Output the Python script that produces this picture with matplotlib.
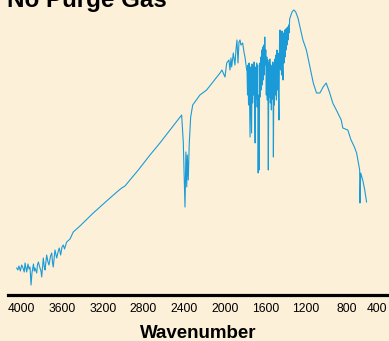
import matplotlib
matplotlib.use("Agg")
import matplotlib.pyplot as plt

plt.rcParams['font.family'] = ['Liberation Sans', 'DejaVu Sans']

BG = "#FDF0D8"
LINE = "#1A9BD7"

title = "No Purge Gas"
xlabel = "Wavenumber"
tick_values = [4000, 3600, 3200, 2800, 2400, 2000, 1600, 1200, 800, 400]

# Water-vapour stretch region (noisy, high wavenumber end)
wn_water = [4049, 4038, 4027, 4013, 4000, 3987, 3975, 3967, 3951, 3938, 3928, 3918,
            3908, 3899, 3884, 3876, 3869, 3852, 3845, 3836, 3820, 3810, 3803, 3787,
            3777, 3770, 3754, 3741, 3731, 3716, 3704, 3696, 3689, 3672, 3655, 3642,
            3630, 3616, 3603, 3590, 3578, 3557, 3524, 3492, 3459, 3426]
int_water = [27, 25, 29, 24, 30, 27, 23, 32, 23, 31, 26, 28,
             10, 22, 31, 24, 27, 22, 30, 33, 27, 24, 18, 37,
             28, 25, 40, 33, 30, 39, 42, 32, 28, 45, 37, 43,
             47, 40, 48, 50, 46, 53, 56, 63, 66, 69]

# Smooth rise and CO2 band
wn_mid = [3295, 3130, 3051, 3015, 2982, 2950, 2851, 2736, 2638, 2539, 2424,
          2408, 2401, 2391, 2382, 2374, 2368, 2359, 2349, 2335, 2315, 2244, 2178, 2116, 2046]
int_mid = [82, 97, 104, 107, 109, 113, 125, 140, 152, 165, 180,
           153, 125, 88, 143, 108, 140, 115, 152, 178, 190, 200, 205, 213, 222]

# Onset of water-bending band
wn_bend1 = [2027, 1997, 1980, 1958, 1948, 1938, 1931, 1915, 1899, 1889, 1879, 1869,
            1859, 1849, 1840, 1823, 1810, 1800, 1783]
int_bend1 = [225, 218, 232, 235, 225, 237, 228, 242, 230, 245, 255, 232,
             253, 255, 250, 252, 243, 238, 225]

# Dense water-bending band
wn_bend2 = [1780, 1775, 1770, 1765, 1760, 1755, 1750, 1745, 1740, 1735, 1730, 1725,
            1720, 1715, 1710, 1705, 1700, 1695, 1690, 1685, 1680, 1675, 1670, 1665,
            1660, 1655, 1650, 1645, 1640, 1635, 1630, 1625, 1620, 1615, 1610, 1605,
            1600, 1595, 1590, 1585, 1580, 1575, 1570, 1565, 1560, 1555, 1550, 1545,
            1540, 1535, 1530, 1525, 1520, 1515, 1510, 1505, 1500, 1495, 1490, 1485,
            1480, 1475, 1470, 1465, 1460, 1455, 1450, 1445, 1440, 1435, 1430, 1425,
            1420, 1415, 1410, 1405, 1400, 1395, 1390, 1385, 1380, 1375, 1370, 1365]
int_bend2 = [225, 200, 230, 190, 232, 195, 158, 228, 198, 162, 231, 192,
             229, 200, 233, 185, 152, 228, 196, 232, 188, 230, 122, 200,
             125, 232, 198, 238, 205, 245, 210, 248, 215, 250, 220, 258,
             230, 245, 200, 238, 195, 235, 125, 232, 198, 236, 192, 230,
             185, 228, 196, 233, 138, 230, 190, 236, 200, 240, 195, 245,
             205, 242, 200, 175, 250, 265, 225, 262, 220, 264, 228, 215,
             262, 232, 265, 238, 266, 245, 267, 250, 268, 255, 270, 262]

# Low-wavenumber fall-off
wn_low = [1360, 1350, 1340, 1330, 1317, 1300, 1278, 1258, 1229, 1195, 1160, 1127,
          1095, 1062, 1030, 1000, 968, 935, 885, 852, 836, 787, 755, 722, 700,
          670, 667, 660, 640, 620, 602]
int_low = [276, 279, 282, 284, 285, 283, 277, 268, 255, 245, 228, 212,
           202, 202, 208, 212, 203, 192, 182, 175, 167, 165, 155, 148, 142,
           125, 92, 122, 115, 105, 93]

wn = wn_water + wn_mid + wn_bend1 + wn_bend2 + wn_low
inten = int_water + int_mid + int_bend1 + int_bend2 + int_low

fig = plt.figure(figsize=(3.89, 3.41), dpi=100, facecolor=BG)
ax = fig.add_axes([8/389, 46/341, 381/389, 295/341])
ax.set_facecolor(BG)
ax.plot(wn, inten, color=LINE, lw=0.8)

ax.set_xlim(4135, 381)
ax.set_ylim(0, 295)
ax.set_xticks(tick_values)
ax.set_xticklabels([str(v) for v in tick_values], fontsize=8.7)
labels = ax.get_xticklabels()
labels[-1].set_horizontalalignment('right')
ax.tick_params(axis='x', length=0, pad=6)
ax.set_yticks([])
for s in ['top', 'right', 'left']:
    ax.spines[s].set_visible(False)
ax.spines['bottom'].set_linewidth(2.3)
ax.spines['bottom'].set_color('black')

fig.text(198.5/389, 3/341, xlabel, ha='center', va='baseline',
         fontsize=13.5, fontweight='bold')
fig.text(7/389, 1 - 7/341, title, ha='left', va='baseline',
         fontsize=17.4, fontweight='bold')

fig.savefig("out.png", dpi=100, facecolor=BG)
